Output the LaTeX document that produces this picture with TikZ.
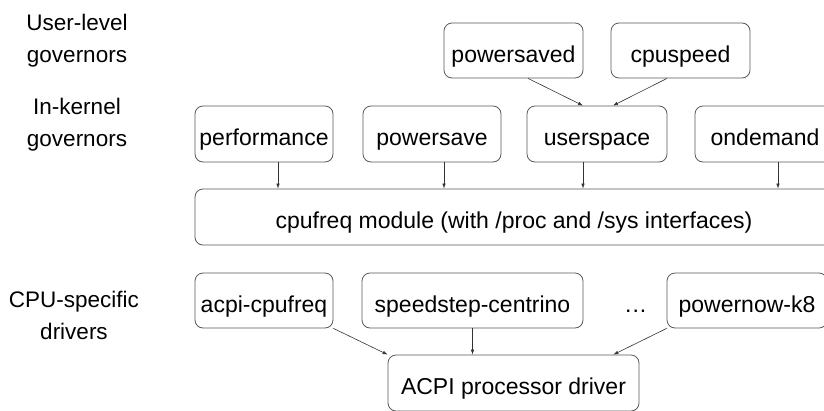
\documentclass[tikz,border=0pt]{standalone}
\usepackage{fontspec}
\setmainfont{Liberation Sans}
\usetikzlibrary{arrows.meta}
\begin{document}
\begin{tikzpicture}[x=1pt,y=-1pt,
  txt/.style={inner sep=0pt,font=\fontsize{23}{27}\selectfont,text height=23pt,text depth=0pt},
  box/.style={txt,draw=black!65,line width=0.8pt,rounded corners=8pt,minimum height=55pt},
  lbl/.style={align=center,font=\fontsize{22.5}{32}\selectfont,inner sep=0pt},
  arr/.style={draw=black!80,line width=0.6pt,-{Latex[length=5pt,width=3.5pt]}}]
\useasboundingbox (0,0) rectangle (824,410);
\clip (0,0) rectangle (824,410);
\node[lbl] (l1) at (77,41) {User-level\\governors};
\node[lbl] (l2) at (77,125) {In-kernel\\governors};
\node[lbl] (l3) at (74,315) {CPU-specific\\drivers};
\node[box,minimum width=139pt] (psd) at (513.5,50.5) {powersaved};
\node[box,minimum width=139pt] (cpus) at (680.5,50.5) {cpuspeed};
\node[box,minimum width=138pt,minimum height=56pt] (perf) at (264,134) {performance};
\node[box,minimum width=138pt,minimum height=56pt] (psave) at (432,134) {powersave};
\node[box,minimum width=140pt,minimum height=56pt] (usp) at (597,134) {userspace};
\node[box,minimum width=140pt,minimum height=56pt] (ond) at (765,134) {ondemand};
\node[box,minimum width=638pt,minimum height=56pt] (cpuf) at (514,217) {cpufreq module (with /proc and /sys interfaces)};
\node[box,minimum width=138pt] (acpi) at (264,300.5) {acpi-cpufreq};
\node[box,minimum width=221pt] (speed) at (472.5,300.5) {speedstep-centrino};
\node[txt,anchor=west] (dots) at (625,300.5) {.\kern1pt.\kern1pt.};
\node[box,minimum width=160pt] (pn) at (747,300.5) {powernow-k8};
\node[box,minimum width=251pt,minimum height=56pt] (acpid) at (513.5,383) {ACPI processor driver};
\draw[arr] ([xshift=14.5pt]psd.south) -- ([xshift=-14pt]usp.north);
\draw[arr] ([xshift=-13.5pt]cpus.south) -- ([xshift=16pt]usp.north);
\draw[arr] ([xshift=14pt]perf.south) -- ([xshift=14pt]perf.south |- cpuf.north);
\draw[arr] ([xshift=12pt]psave.south) -- ([xshift=12pt]psave.south |- cpuf.north);
\draw[arr] ([xshift=-14pt]usp.south) -- ([xshift=-14pt]usp.south |- cpuf.north);
\draw[arr] ([xshift=13pt]ond.south) -- ([xshift=13pt]ond.south |- cpuf.north);
\draw[arr] (acpi.south east) -- (acpid.north west);
\draw[arr] (speed.south) -- (speed.south |- acpid.north);
\draw[arr] (pn.south west) -- ([xshift=-26pt]acpid.north east);
\end{tikzpicture}
\end{document}
